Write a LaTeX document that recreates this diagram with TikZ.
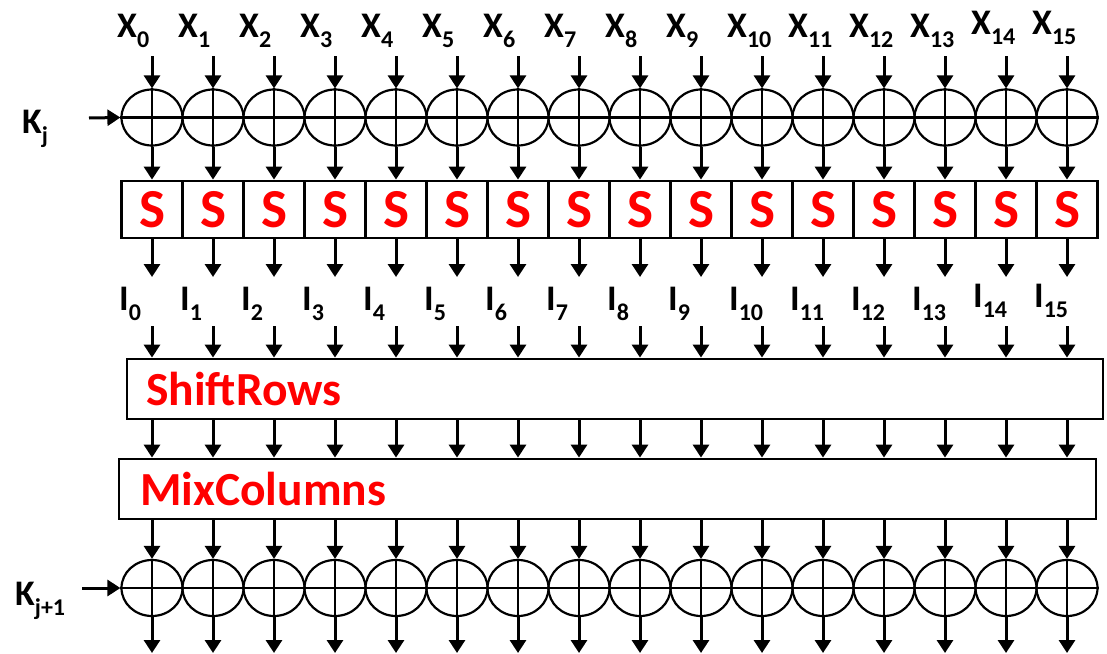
\documentclass[tikz,border=0pt]{standalone}
\usepackage{fontspec}
\setmainfont{Carlito}
\usetikzlibrary{arrows.meta,shapes.geometric}
\newcommand\lblsub[1]{\raisebox{-10pt}{\fontsize{24}{24}\selectfont #1}}
\begin{document}
\begin{tikzpicture}[x=1pt,y=-1pt,
  arr/.style={line width=3pt,-{Triangle[width=16pt,length=13pt]}},
  xor/.style={ellipse,draw,line width=2.2pt,minimum width=61pt,minimum height=56pt,inner sep=0pt},
  cross/.style={line width=2.2pt},
  sbox/.style={draw,line width=2.8pt,minimum width=61pt,minimum height=57pt,inner sep=0pt,text=red,font=\fontsize{55}{55}\selectfont\bfseries},
  bigbox/.style={draw,line width=2.8pt,inner sep=0pt},
  boxtext/.style={text=red,inner sep=0pt,anchor=base west,font=\fontsize{47.5}{47.5}\selectfont\bfseries},
  lbl/.style={inner sep=0pt,anchor=base west,font=\fontsize{36}{36}\selectfont\bfseries}
]
\useasboundingbox (0,0) rectangle (1107,653);
% labels on the left
\node[lbl] (kj) at (22,133) {K\lblsub{j}};
\node[lbl] (kj1) at (15,605) {K\lblsub{j+1}};
\coordinate (kjs) at (89,118);
\coordinate (kj1s) at (82,588);
% big boxes
\node[bigbox,minimum width=976pt,minimum height=60pt] (sr) at (615,389) {};
\node[boxtext] (srt) at (146,405) {ShiftRows};
\node[bigbox,minimum width=977pt,minimum height=60pt] (mc) at (607.5,489) {};
\node[boxtext] (mct) at (140,505) {MixColumns};
\foreach \i in {0,...,15} {
  \pgfmathsetmacro\cx{152+61*\i}
  \ifnum\i>13 \def\xb{34}\def\ib{307}\else\def\xb{37}\def\ib{310}\fi
  \node[lbl] (X\i) at (\cx-35,\xb) {X\lblsub{\i}};
  \node[lbl] (I\i) at (\cx-33,\ib) {I\lblsub{\i}};
  \node[xor] (t\i) at (\cx,117.5) {};
  \node[sbox] (s\i) at (\cx,209.5) {S};
  \node[xor] (b\i) at (\cx,588) {};
  \coordinate (xa\i) at (\cx,56);
  \coordinate (ie\i) at (\cx,277);
  \coordinate (is\i) at (\cx,326);
  \coordinate (o\i) at (\cx,653);
}
\draw[cross] (t0.west) -- (t15.east);
\draw[cross] (b0.west) -- (b15.east);
\draw[arr] (kjs) -- (t0.west);
\draw[arr] (kj1s) -- (b0.west);
\foreach \i in {0,...,15} {
  \draw[cross] (t\i.north) -- (t\i.south);
  \draw[cross] (b\i.north) -- (b\i.south);
  \draw[arr] (xa\i) -- (t\i.north);
  \draw[arr] (t\i.south) -- (s\i.north);
  \draw[arr] (s\i.south) -- (ie\i);
  \draw[arr] (is\i) -- (is\i |- sr.north);
  \draw[arr] (t\i |- sr.south) -- (t\i |- mc.north);
  \draw[arr] (t\i |- mc.south) -- (b\i.north);
  \draw[arr] (b\i.south) -- (o\i);
}
\end{tikzpicture}
\end{document}
